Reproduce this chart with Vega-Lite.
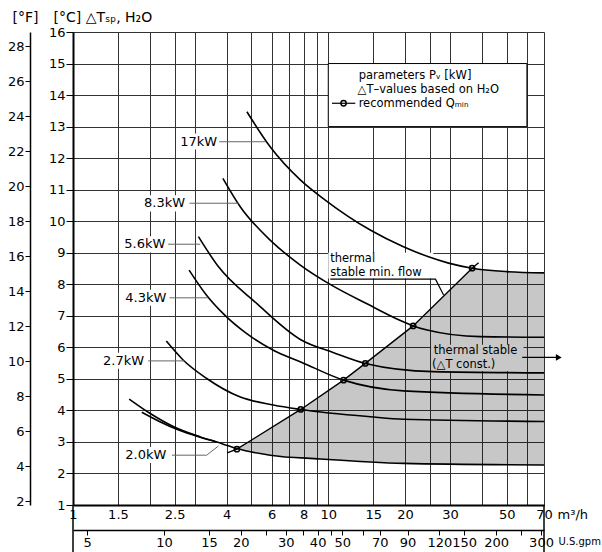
{
  "$schema": "https://vega.github.io/schema/vega-lite/v6.json",
  "width": 471,
  "height": 473,
  "autosize": {"type": "none"},
  "padding": {"left": 73, "top": 32, "right": 58, "bottom": 47},
  "background": "white",
  "config": {
    "font": "DejaVu Sans",
    "view": {"stroke": null},
    "axis": {
      "labelFont": "DejaVu Sans",
      "labelFontSize": 13,
      "labelColor": "black",
      "titleFont": "DejaVu Sans",
      "titleFontWeight": "normal",
      "titleColor": "black",
      "domainColor": "black",
      "tickColor": "black",
      "gridColor": "#333333",
      "gridOpacity": 1,
      "labelOverlap": false,
      "labelFlush": false,
      "labelBound": false
    }
  },
  "datasets": {
    "area": [
      {"x": 4.385, "top": 2.77, "bottom": 2.77},
      {"x": 5.92, "top": 3.43, "bottom": 2.58},
      {"x": 7.8, "top": 4.03, "bottom": 2.5},
      {"x": 9.3, "top": 4.46, "bottom": 2.46},
      {"x": 11.48, "top": 4.96, "bottom": 2.42},
      {"x": 13.97, "top": 5.49, "bottom": 2.39},
      {"x": 19.7, "top": 6.44, "bottom": 2.32},
      {"x": 21.5, "top": 6.68, "bottom": 2.31},
      {"x": 36.6, "top": 8.51, "bottom": 2.29},
      {"x": 50.2, "top": 8.4, "bottom": 2.28},
      {"x": 70, "top": 8.36, "bottom": 2.27}
    ],
    "box": [{"x1": 10, "x2": 60, "y1": 13, "y2": 15}],
    "masks": [
      {"x1": 2.58, "x2": 3.74, "y1": 12.27, "y2": 12.78},
      {"x1": 1.865, "x2": 2.8, "y1": 10.31, "y2": 10.82},
      {"x1": 1.556, "x2": 2.337, "y1": 9.01, "y2": 9.52},
      {"x1": 1.571, "x2": 2.364, "y1": 7.32, "y2": 7.83},
      {"x1": 1.288, "x2": 1.933, "y1": 5.32, "y2": 5.83},
      {"x1": 1.571, "x2": 2.358, "y1": 2.33, "y2": 2.84},
      {"x1": 10.0, "x2": 25.8, "y1": 8.18, "y2": 9.0}
    ],
    "graymask": [{"x1": 25.3, "x2": 58.2, "y1": 5.24, "y2": 6.08}],
    "curves": [
      {"kw": "17", "x": 4.8, "y": 13.47},
      {"kw": "17", "x": 5.92, "y": 12.36},
      {"kw": "17", "x": 7.77, "y": 11.31},
      {"kw": "17", "x": 9.73, "y": 10.67},
      {"kw": "17", "x": 14.6, "y": 9.72},
      {"kw": "17", "x": 19.7, "y": 9.19},
      {"kw": "17", "x": 24.7, "y": 8.87},
      {"kw": "17", "x": 29.6, "y": 8.67},
      {"kw": "17", "x": 36.6, "y": 8.51},
      {"kw": "17", "x": 50.2, "y": 8.4},
      {"kw": "17", "x": 70, "y": 8.36},
      {"kw": "8.3", "x": 3.865, "y": 11.36},
      {"kw": "8.3", "x": 4.52, "y": 10.46},
      {"kw": "8.3", "x": 5.92, "y": 9.4},
      {"kw": "8.3", "x": 7.77, "y": 8.61},
      {"kw": "8.3", "x": 10.46, "y": 7.94},
      {"kw": "8.3", "x": 14.18, "y": 7.38},
      {"kw": "8.3", "x": 19.16, "y": 6.85},
      {"kw": "8.3", "x": 21.5, "y": 6.68},
      {"kw": "8.3", "x": 24.4, "y": 6.55},
      {"kw": "8.3", "x": 39.4, "y": 6.34},
      {"kw": "8.3", "x": 70, "y": 6.32},
      {"kw": "5.6", "x": 3.1, "y": 9.51},
      {"kw": "5.6", "x": 3.71, "y": 8.56},
      {"kw": "5.6", "x": 5.23, "y": 7.4},
      {"kw": "5.6", "x": 7.77, "y": 6.25},
      {"kw": "5.6", "x": 10.5, "y": 5.83},
      {"kw": "5.6", "x": 13.97, "y": 5.49},
      {"kw": "5.6", "x": 25.8, "y": 5.23},
      {"kw": "5.6", "x": 70, "y": 5.19},
      {"kw": "4.3", "x": 2.85, "y": 8.45},
      {"kw": "4.3", "x": 3.33, "y": 7.66},
      {"kw": "4.3", "x": 3.93, "y": 7.02},
      {"kw": "4.3", "x": 4.78, "y": 6.44},
      {"kw": "4.3", "x": 6.09, "y": 5.91},
      {"kw": "4.3", "x": 7.84, "y": 5.53},
      {"kw": "4.3", "x": 11.48, "y": 4.96},
      {"kw": "4.3", "x": 19.7, "y": 4.62},
      {"kw": "4.3", "x": 70, "y": 4.49},
      {"kw": "2.7", "x": 2.32, "y": 6.2},
      {"kw": "2.7", "x": 2.7, "y": 5.6},
      {"kw": "2.7", "x": 3.33, "y": 5.02},
      {"kw": "2.7", "x": 4.5, "y": 4.43},
      {"kw": "2.7", "x": 6.09, "y": 4.17},
      {"kw": "2.7", "x": 7.8, "y": 4.03},
      {"kw": "2.7", "x": 14.6, "y": 3.8},
      {"kw": "2.7", "x": 19.7, "y": 3.72},
      {"kw": "2.7", "x": 70, "y": 3.65},
      {"kw": "2.0", "x": 1.66, "y": 4.36},
      {"kw": "2.0", "x": 2.0, "y": 3.91},
      {"kw": "2.0", "x": 2.47, "y": 3.49},
      {"kw": "2.0", "x": 3.15, "y": 3.16},
      {"kw": "2.0", "x": 3.88, "y": 2.93},
      {"kw": "2.0", "x": 4.385, "y": 2.79},
      {"kw": "2.0", "x": 5.92, "y": 2.58},
      {"kw": "2.0", "x": 9.3, "y": 2.46},
      {"kw": "2.0", "x": 19.7, "y": 2.32},
      {"kw": "2.0", "x": 70, "y": 2.27},
      {"kw": "2.0b", "x": 1.86, "y": 3.94},
      {"kw": "2.0b", "x": 2.19, "y": 3.64},
      {"kw": "2.0b", "x": 2.55, "y": 3.4},
      {"kw": "2.0b", "x": 3.15, "y": 3.15},
      {"kw": "2.0b", "x": 3.6, "y": 3.02}
    ],
    "diag": [
      {"x": 4.02, "y": 2.65},
      {"x": 4.385, "y": 2.77},
      {"x": 7.8, "y": 4.03},
      {"x": 11.48, "y": 4.96},
      {"x": 13.97, "y": 5.49},
      {"x": 21.5, "y": 6.68},
      {"x": 36.6, "y": 8.51},
      {"x": 38.8, "y": 8.68}
    ],
    "leaders": [
      {"id": "17", "x": 3.74, "y": 12.52},
      {"id": "17", "x": 5.66, "y": 12.52},
      {"id": "8.3", "x": 2.86, "y": 10.57},
      {"id": "8.3", "x": 4.45, "y": 10.57},
      {"id": "5.6", "x": 2.36, "y": 9.27},
      {"id": "5.6", "x": 3.15, "y": 9.27},
      {"id": "4.3", "x": 2.39, "y": 7.57},
      {"id": "4.3", "x": 3.38, "y": 7.57},
      {"id": "2.7", "x": 1.97, "y": 5.57},
      {"id": "2.7", "x": 2.74, "y": 5.57},
      {"id": "2.0", "x": 2.44, "y": 2.58},
      {"id": "2.0", "x": 3.34, "y": 2.58},
      {"id": "2.0", "x": 3.71, "y": 2.87}
    ],
    "pointers": [
      {"id": "flow", "x": 10.18, "y": 8.16},
      {"id": "flow", "x": 26.3, "y": 8.16},
      {"id": "flow", "x": 28.3, "y": 7.66},
      {"id": "arrow", "x": 57.5, "y": 5.68},
      {"id": "arrow", "x": 80, "y": 5.68},
      {"id": "legend", "x": 10.34, "y": 13.74},
      {"id": "legend", "x": 12.76, "y": 13.74}
    ],
    "arrowhead": [{"x": 80, "y": 5.68}],
    "markers": [
      {"x": 4.385, "y": 2.77},
      {"x": 7.8, "y": 4.03},
      {"x": 11.48, "y": 4.96},
      {"x": 13.97, "y": 5.49},
      {"x": 21.5, "y": 6.68},
      {"x": 36.6, "y": 8.51},
      {"x": 11.48, "y": 13.74}
    ],
    "kwlabels": [
      {"text": "17kW", "x": 3.67, "y": 12.52},
      {"text": "8.3kW", "x": 2.75, "y": 10.57},
      {"text": "5.6kW", "x": 2.3, "y": 9.27},
      {"text": "4.3kW", "x": 2.32, "y": 7.57},
      {"text": "2.7kW", "x": 1.9, "y": 5.57},
      {"text": "2.0kW", "x": 2.32, "y": 2.58}
    ],
    "notes": [
      {"text": "thermal", "x": 10.18, "y": 8.79},
      {"text": "stable min. flow", "x": 10.18, "y": 8.36},
      {"text": "thermal stable", "x": 25.9, "y": 5.87},
      {"text": "(△T const.)", "x": 25.5, "y": 5.44},
      {"text": "parameters Pᵥ [kW]", "x": 13.15, "y": 14.6},
      {"text": "△T–values based on H₂O", "x": 13.03, "y": 14.16},
      {"text": "recommended Qₘᵢₙ", "x": 13.15, "y": 13.72}
    ],
    "edges": [{"x": 1}, {"x": 70}],
    "fticks": [
      {"f": 2}, {"f": 4}, {"f": 6}, {"f": 8}, {"f": 10}, {"f": 12}, {"f": 14},
      {"f": 16}, {"f": 18}, {"f": 20}, {"f": 22}, {"f": 24}, {"f": 26}, {"f": 28}
    ],
    "gticks": [
      {"g": 5}, {"g": 10}, {"g": 15}, {"g": 20}, {"g": 30}, {"g": 40}, {"g": 50},
      {"g": 70}, {"g": 90}, {"g": 120}, {"g": 150}, {"g": 200}, {"g": 300}
    ]
  },
  "layer": [
    {
      "data": {"name": "area"},
      "mark": {"type": "area", "fill": "black", "fillOpacity": 0.22},
      "encoding": {
        "x": {
          "field": "x", "type": "quantitative",
          "scale": {"type": "log", "domain": [1, 70], "nice": false},
          "axis": {
            "orient": "bottom",
            "values": [1, 1.5, 2, 2.5, 3, 4, 5, 6, 7, 8, 9, 10, 15, 20, 25, 30, 40, 50, 60, 70],
            "labelExpr": "indexof([1,1.5,2.5,4,6,8,10,15,20,30,50,70], datum.value) >= 0 ? '' + datum.value : ''",
            "grid": true,
            "ticks": false,
            "domainWidth": 2,
            "labelPadding": 3,
            "title": "m³/h",
            "titleAngle": 0,
            "titleX": 484,
            "titleY": 9,
            "titleAlign": "left",
            "titleBaseline": "middle",
            "titleFontSize": 13
          }
        },
        "y": {
          "field": "top", "type": "quantitative",
          "scale": {"domain": [1, 16], "nice": false, "zero": false},
          "axis": {
            "orient": "left",
            "values": [1, 2, 3, 4, 5, 6, 7, 8, 9, 10, 11, 12, 13, 14, 15, 16],
            "grid": true,
            "tickSize": 7,
            "labelPadding": 1,
            "domainWidth": 2,
            "title": "[°C] △Tₛₚ, H₂O",
            "titleAngle": 0,
            "titleX": -20,
            "titleY": -15,
            "titleAlign": "left",
            "titleBaseline": "middle",
            "titleFontSize": 14
          }
        },
        "y2": {"field": "bottom"}
      }
    },
    {
      "data": {"name": "box"},
      "mark": {"type": "rect", "fill": "white", "stroke": "black", "strokeWidth": 1},
      "encoding": {
        "x": {"field": "x1", "type": "quantitative", "scale": {"type": "log", "domain": [1, 70], "nice": false}, "axis": null},
        "x2": {"field": "x2"},
        "y": {"field": "y1", "type": "quantitative", "scale": {"domain": [1, 16], "nice": false, "zero": false}, "axis": null},
        "y2": {"field": "y2"}
      }
    },
    {
      "data": {"name": "masks"},
      "mark": {"type": "rect", "fill": "white", "strokeWidth": 0},
      "encoding": {
        "x": {"field": "x1", "type": "quantitative", "scale": {"type": "log", "domain": [1, 70], "nice": false}, "axis": null},
        "x2": {"field": "x2"},
        "y": {"field": "y1", "type": "quantitative", "scale": {"domain": [1, 16], "nice": false, "zero": false}, "axis": null},
        "y2": {"field": "y2"}
      }
    },
    {
      "data": {"name": "graymask"},
      "mark": {"type": "rect", "fill": "#c7c7c7", "strokeWidth": 0},
      "encoding": {
        "x": {"field": "x1", "type": "quantitative", "scale": {"type": "log", "domain": [1, 70], "nice": false}, "axis": null},
        "x2": {"field": "x2"},
        "y": {"field": "y1", "type": "quantitative", "scale": {"domain": [1, 16], "nice": false, "zero": false}, "axis": null},
        "y2": {"field": "y2"}
      }
    },
    {
      "data": {"name": "curves"},
      "mark": {"type": "line", "color": "black", "strokeWidth": 1.6, "interpolate": "monotone"},
      "encoding": {
        "x": {"field": "x", "type": "quantitative", "scale": {"type": "log", "domain": [1, 70], "nice": false}, "axis": null},
        "y": {"field": "y", "type": "quantitative", "scale": {"domain": [1, 16], "nice": false, "zero": false}, "axis": null},
        "detail": {"field": "kw"}
      }
    },
    {
      "data": {"name": "diag"},
      "mark": {"type": "line", "color": "black", "strokeWidth": 1.4},
      "encoding": {
        "x": {"field": "x", "type": "quantitative", "scale": {"type": "log", "domain": [1, 70], "nice": false}, "axis": null},
        "y": {"field": "y", "type": "quantitative", "scale": {"domain": [1, 16], "nice": false, "zero": false}, "axis": null}
      }
    },
    {
      "data": {"name": "leaders"},
      "mark": {"type": "line", "color": "#666666", "strokeWidth": 1},
      "encoding": {
        "x": {"field": "x", "type": "quantitative", "scale": {"type": "log", "domain": [1, 70], "nice": false}, "axis": null},
        "y": {"field": "y", "type": "quantitative", "scale": {"domain": [1, 16], "nice": false, "zero": false}, "axis": null},
        "detail": {"field": "id"}
      }
    },
    {
      "data": {"name": "pointers"},
      "mark": {"type": "line", "color": "black", "strokeWidth": 1.2},
      "encoding": {
        "x": {"field": "x", "type": "quantitative", "scale": {"type": "log", "domain": [1, 70], "nice": false}, "axis": null},
        "y": {"field": "y", "type": "quantitative", "scale": {"domain": [1, 16], "nice": false, "zero": false}, "axis": null},
        "detail": {"field": "id"}
      }
    },
    {
      "data": {"name": "arrowhead"},
      "mark": {"type": "point", "shape": "triangle-right", "filled": true, "color": "black", "size": 45, "opacity": 1},
      "encoding": {
        "x": {"field": "x", "type": "quantitative", "scale": {"type": "log", "domain": [1, 70], "nice": false}, "axis": null},
        "y": {"field": "y", "type": "quantitative", "scale": {"domain": [1, 16], "nice": false, "zero": false}, "axis": null}
      }
    },
    {
      "data": {"name": "markers"},
      "mark": {"type": "point", "shape": "circle", "filled": false, "color": "black", "strokeWidth": 1.5, "size": 28, "opacity": 1},
      "encoding": {
        "x": {"field": "x", "type": "quantitative", "scale": {"type": "log", "domain": [1, 70], "nice": false}, "axis": null},
        "y": {"field": "y", "type": "quantitative", "scale": {"domain": [1, 16], "nice": false, "zero": false}, "axis": null}
      }
    },
    {
      "data": {"name": "kwlabels"},
      "mark": {"type": "text", "align": "right", "baseline": "middle", "fontSize": 13, "color": "black"},
      "encoding": {
        "x": {"field": "x", "type": "quantitative", "scale": {"type": "log", "domain": [1, 70], "nice": false}, "axis": null},
        "y": {"field": "y", "type": "quantitative", "scale": {"domain": [1, 16], "nice": false, "zero": false}, "axis": null},
        "text": {"field": "text"}
      }
    },
    {
      "data": {"name": "notes"},
      "mark": {"type": "text", "align": "left", "baseline": "middle", "fontSize": 11.5, "color": "black"},
      "encoding": {
        "x": {"field": "x", "type": "quantitative", "scale": {"type": "log", "domain": [1, 70], "nice": false}, "axis": null},
        "y": {"field": "y", "type": "quantitative", "scale": {"domain": [1, 16], "nice": false, "zero": false}, "axis": null},
        "text": {"field": "text"}
      }
    },
    {
      "data": {"name": "edges"},
      "mark": {"type": "rule", "color": "black", "strokeWidth": 1.5},
      "encoding": {
        "x": {"field": "x", "type": "quantitative", "scale": {"type": "log", "domain": [1, 70], "nice": false}, "axis": null},
        "y": {"datum": 1, "type": "quantitative", "scale": {"domain": [1, 16], "nice": false, "zero": false}, "axis": null},
        "y2": {"datum": -0.5}
      }
    },
    {
      "data": {"name": "fticks"},
      "mark": {"type": "point", "opacity": 0},
      "encoding": {
        "y": {
          "field": "f", "type": "quantitative",
          "scale": {"domain": [1.8, 28.8], "nice": false, "zero": false},
          "axis": {
            "orient": "left",
            "offset": 43,
            "values": [2, 4, 6, 8, 10, 12, 14, 16, 18, 20, 22, 24, 26, 28],
            "grid": false,
            "tickSize": 5,
            "labelPadding": 1,
            "domainWidth": 1.5,
            "title": "[°F]",
            "titleAngle": 0,
            "titleX": -18,
            "titleY": -15,
            "titleAlign": "left",
            "titleBaseline": "middle",
            "titleFontSize": 14
          }
        }
      }
    },
    {
      "data": {"name": "gticks"},
      "mark": {"type": "point", "opacity": 0},
      "encoding": {
        "x": {
          "field": "g", "type": "quantitative",
          "scale": {"type": "log", "domain": [4.403, 308.2], "nice": false},
          "axis": {
            "orient": "bottom",
            "offset": 25,
            "values": [5, 10, 15, 20, 25, 30, 35, 40, 45, 50, 60, 70, 90, 120, 150, 200, 250, 300],
            "labelExpr": "indexof([5,10,15,20,30,40,50,70,90,120,150,200,300], datum.value) >= 0 ? '' + datum.value : ''",
            "grid": false,
            "tickSize": 5,
            "labelPadding": 1,
            "domainWidth": 1.5,
            "title": "U.S.gpm",
            "titleAngle": 0,
            "titleX": 485,
            "titleY": 11,
            "titleAlign": "left",
            "titleBaseline": "middle",
            "titleFontSize": 10
          }
        }
      }
    }
  ],
  "resolve": {"scale": {"x": "independent", "y": "independent"}}
}
